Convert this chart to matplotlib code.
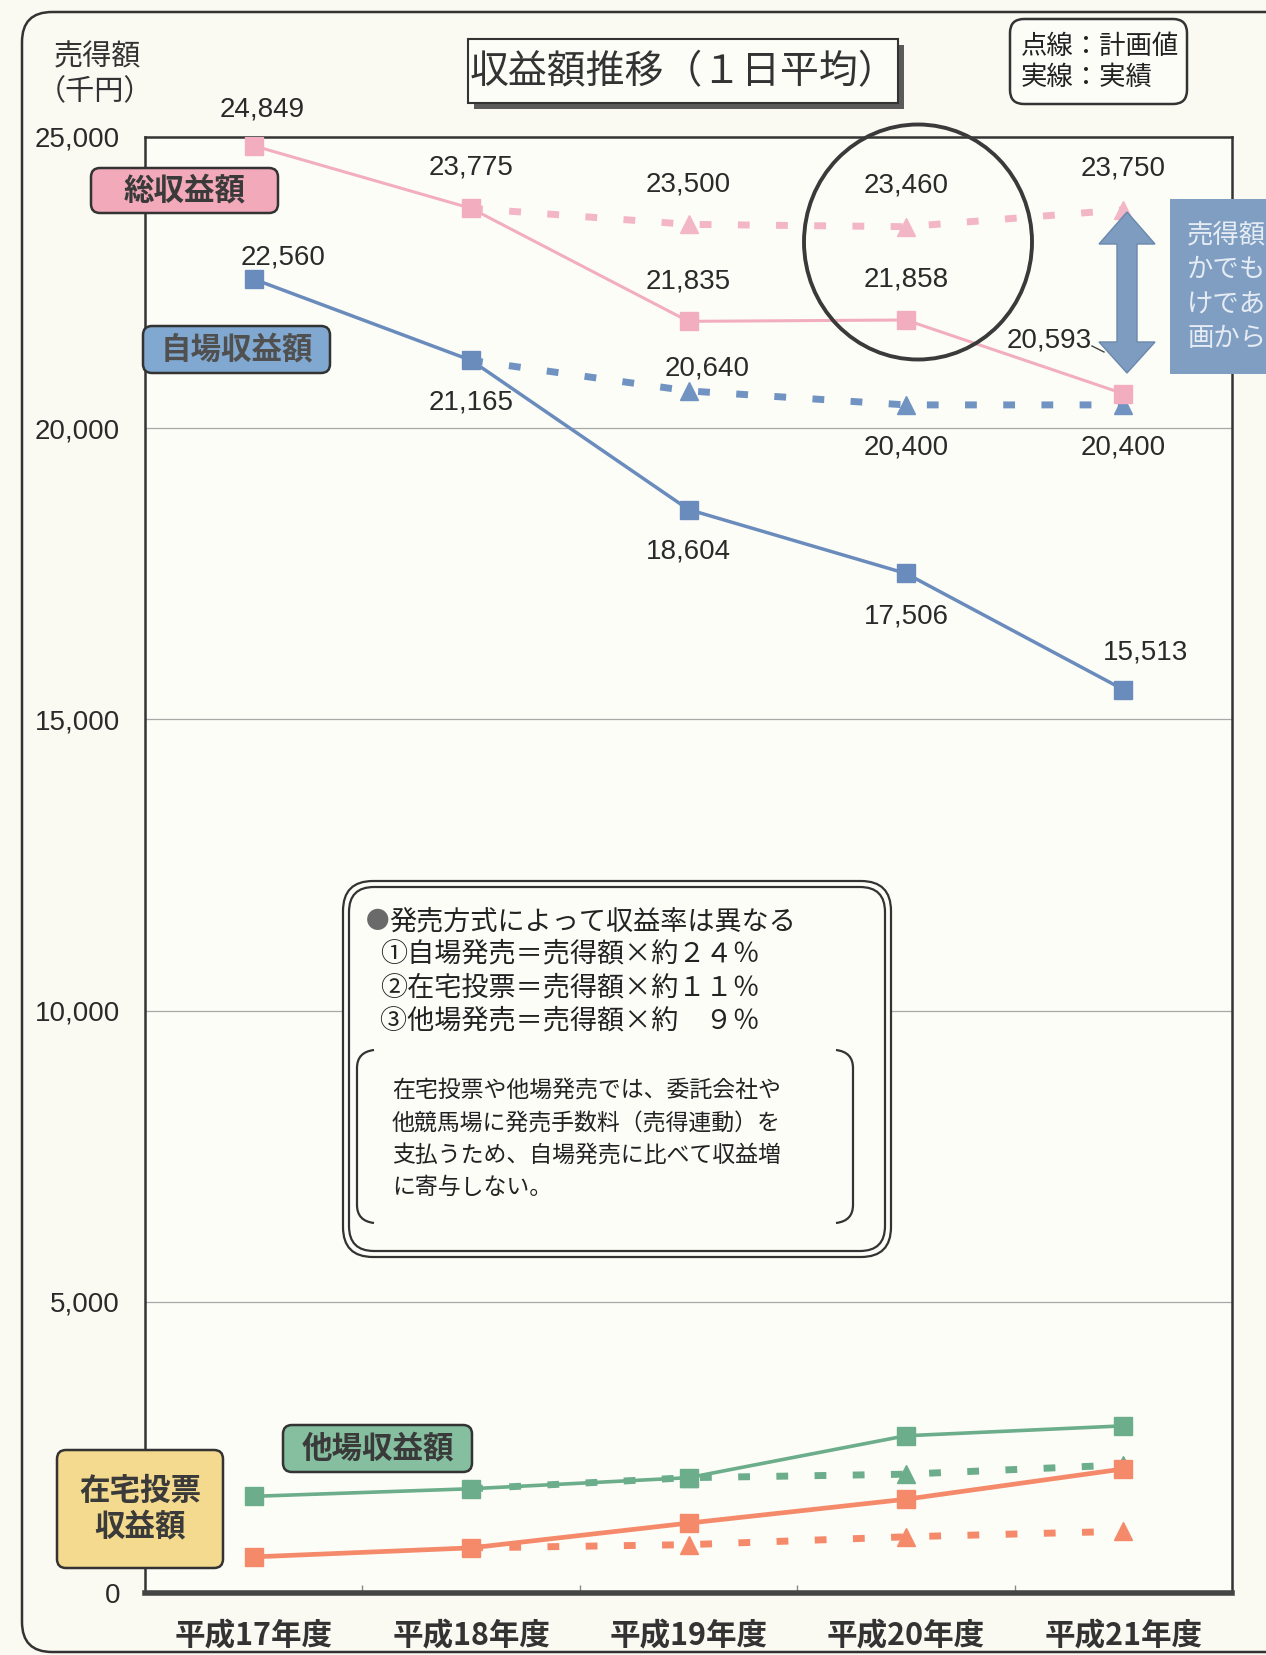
import numpy as np
import matplotlib
matplotlib.use("Agg")
import matplotlib.pyplot as plt
from matplotlib.patches import FancyBboxPatch, Ellipse, Polygon, Rectangle, PathPatch
from matplotlib.path import Path

# ---------------- data ----------------
years = ['平成17年度', '平成18年度', '平成19年度', '平成20年度', '平成21年度']
total_actual = [24849, 23775, 21835, 21858, 20593]
total_plan = [np.nan, 23775, 23500, 23460, 23750]
own_actual = [22560, 21165, 18604, 17506, 15513]
own_plan = [np.nan, 21165, 20640, 20400, 20400]
other_actual = [1660, 1790, 1980, 2700, 2870]
other_plan = [np.nan, 1790, 1980, 2040, 2200]
home_actual = [620, 775, 1200, 1610, 2130]
home_plan = [np.nan, 775, 830, 965, 1060]
yticks = [0, 5000, 10000, 15000, 20000, 25000]

CJK = ['Noto Sans CJK JP', 'DejaVu Sans']
NUM = ['Liberation Sans', 'DejaVu Sans']
plt.rcParams['font.family'] = CJK

W, H = 1266, 1655
BG = '#FBFAF2'
fig = plt.figure(figsize=(W / 100, H / 100), dpi=100, facecolor=BG)

# main axes (pixel geometry of the plot frame)
L, T, R, B = 145, 137, 1232, 1593
ax = fig.add_axes([L / W, (H - B) / H, (R - L) / W, (B - T) / H])
ax.set_facecolor('#FDFDF8')
ax.set_xlim(-0.5, 4.5)
ax.set_ylim(0, 25000)
x = np.arange(len(years))

pink, pink_d = '#F2AEBF', '#F3B6C6'
blue, blue_d = '#6A8CBD', '#7193C2'
green = '#6CAD8B'
orange = '#F58A6B'

for g in yticks[1:-1]:
    ax.axhline(g, color='#A8A8A8', lw=0.9, zorder=1)

mk = dict(marker='s', ms=13)
dash = dict(lw=5, dashes=(1.7, 3.8), dash_capstyle='butt', marker='^', ms=13,
            markevery=[2, 3, 4], zorder=3)
# plan (dotted) lines
ax.plot(x, total_plan, color=pink_d, **dash)
ax.plot(x, own_plan, color=blue_d, **dash)
ax.plot(x, other_plan, color=green, **dash)
ax.plot(x, home_plan, color=orange, **dash)
# actual (solid) lines
ax.plot(x, total_actual, color=pink, lw=2.2, zorder=4, **mk)
ax.plot(x, own_actual, color=blue, lw=2.5, zorder=4, **mk)
ax.plot(x, other_actual, color=green, lw=2.6, zorder=4, **mk)
ax.plot(x, home_actual, color=orange, lw=3.4, zorder=4, **mk)

# value labels: (series, index, dx px, dy px (down positive))
label_pos = [
    (total_actual, 0, 8, -36), (total_actual, 1, 0, -41), (total_actual, 2, 0, -40),
    (total_actual, 3, 0, -40), (total_actual, 4, -74, -53),
    (total_plan, 2, 0, -40), (total_plan, 3, 0, -41), (total_plan, 4, 0, -41),
    (own_actual, 0, 29, -22), (own_actual, 1, 0, 42), (own_actual, 2, 0, 42),
    (own_actual, 3, 0, 43), (own_actual, 4, 22, -37),
    (own_plan, 2, 19, -22), (own_plan, 3, 0, 43), (own_plan, 4, 0, 43),
]
for ser, i, dx, dy in label_pos:
    ax.annotate(f'{ser[i]:,}', (x[i], ser[i]), xytext=(dx, -dy), textcoords='offset pixels',
                ha='center', va='center', fontsize=20, family=NUM, color='#2a2a2a', zorder=6)

ax.set_xticks(x, years)
ax.set_xticks([0.5, 1.5, 2.5, 3.5], minor=True)
ax.tick_params(axis='x', which='major', length=0, pad=20, labelsize=22, labelcolor='#333333')
for lab in ax.get_xticklabels():
    lab.set_fontweight('bold')
ax.tick_params(axis='x', which='minor', direction='in', length=6, width=1, color='#888888')
ax.set_yticks(yticks, [f'{v:,}' for v in yticks])
ax.tick_params(axis='y', length=0, pad=18, labelsize=20, labelcolor='#2a2a2a')
for lab in ax.get_yticklabels():
    lab.set_family(NUM)
for s in ['left', 'top', 'right']:
    ax.spines[s].set_color('#333333')
    ax.spines[s].set_linewidth(1.8)
ax.spines['bottom'].set_color('#444444')
ax.spines['bottom'].set_linewidth(4)

# ---------------- overlay (pixel coordinates, y down) ----------------
ov = fig.add_axes([0, 0, 1, 1], zorder=10)
ov.set_xlim(0, W)
ov.set_ylim(H, 0)
ov.axis('off')
ov.patch.set_alpha(0)

# outer rounded frame
ov.add_patch(FancyBboxPatch((22, 12), 1320, 1640, boxstyle='round,pad=0,rounding_size=30',
                            fc='none', ec='#333333', lw=1.8))

# y axis caption
ov.text(97, 57, '売得額', ha='center', va='center', fontsize=21, color='#333333')
ov.text(95, 92, '（千円）', ha='center', va='center', fontsize=21, color='#333333')

# title with shadow
ov.add_patch(Rectangle((474, 45), 430, 64, fc='#5a5a5a', ec='none'))
ov.add_patch(Rectangle((468, 39), 430, 64, fc='#FDFDF8', ec='#333333', lw=1.5))
ov.text(683, 72, '収益額推移（１日平均）', ha='center', va='center', fontsize=28, color='#333333')

# legend note top right
ov.add_patch(FancyBboxPatch((1010, 19), 177, 85, boxstyle='round,pad=0,rounding_size=14',
                            fc='#FDFDF8', ec='#333333', lw=1.8))
ov.text(1021, 46, '点線：計画値', ha='left', va='center', fontsize=19, color='#222222')
ov.text(1021, 77, '実線：実績', ha='left', va='center', fontsize=19, color='#222222')

# series label boxes
def label_box(x0, y0, w, h, fc, lines, tc):
    ov.add_patch(FancyBboxPatch((x0, y0), w, h, boxstyle='round,pad=0,rounding_size=9',
                                fc=fc, ec='#333333', lw=1.8))
    ov.text(x0 + w / 2, y0 + h / 2, lines, ha='center', va='center', fontsize=22,
            fontweight='bold', color=tc, linespacing=1.15)

label_box(91, 168, 187, 45, '#F2A9BA', '総収益額', '#3a3a3a')
label_box(143, 326, 187, 47, '#80A8D0', '自場収益額', '#505050')
label_box(283, 1425, 189, 47, '#85BF9F', '他場収益額', '#3a3a3a')
label_box(57, 1450, 166, 118, '#F3DA8E', '在宅投票\n収益額', '#3a3a3a')

# highlight circle
ov.add_patch(Ellipse((918, 242), 228, 235, fc='none', ec='#3a3a3a', lw=2.8))

# double arrow
ax_c = 1127
arrow = [(ax_c, 212), (ax_c + 28, 244), (ax_c + 10, 244), (ax_c + 10, 342), (ax_c + 28, 342),
         (ax_c, 373), (ax_c - 28, 342), (ax_c - 10, 342), (ax_c - 10, 244), (ax_c - 28, 244)]
ov.add_patch(Polygon(arrow, closed=True, fc='#7E9CC0', ec='#6A88AD', lw=1))

# right side blue box (clipped by figure edge)
ov.add_patch(Rectangle((1170, 199), 140, 175, fc='#7F9EC2', ec='none'))
for yy, s in zip([235, 269, 304, 338], ['売得額', 'かでも', 'けであ', '画から']):
    ov.text(1187, yy, s, ha='left', va='center', fontsize=19, color='#E6ECF4')

# note box (double border)
ov.add_patch(FancyBboxPatch((343, 881), 548, 376, boxstyle='round,pad=0,rounding_size=30',
                            fc='#FDFDF8', ec='#333333', lw=1.6))
ov.add_patch(FancyBboxPatch((349, 887), 536, 364, boxstyle='round,pad=0,rounding_size=25',
                            fc='none', ec='#333333', lw=1.6))
ov.text(366, 922, '●', ha='left', va='center', fontsize=17, color='#6a6a6a')
ov.text(389, 922, '発売方式によって収益率は異なる', ha='left', va='center', fontsize=19.5, color='#222222')
for yy, s in zip([954, 988, 1021], ['①自場発売＝売得額×約２４％', '②在宅投票＝売得額×約１１％',
                                    '③他場発売＝売得額×約　９％']):
    ov.text(380, yy, s, ha='left', va='center', fontsize=19.5, color='#222222')
para = ['在宅投票や他場発売では、委託会社や', '他競馬場に発売手数料（売得連動）を',
        '支払うため、自場発売に比べて収益増', 'に寄与しない。']
for yy, s in zip([1090, 1124, 1156, 1187], para):
    ov.text(392, yy, s, ha='left', va='center', fontsize=16.5, color='#222222')

# brackets
lb = Path([(374, 1050), (357, 1052), (357, 1068), (357, 1205), (357, 1221), (374, 1223)],
          [Path.MOVETO, Path.CURVE3, Path.CURVE3, Path.LINETO, Path.CURVE3, Path.CURVE3])
rb = Path([(836, 1050), (853, 1052), (853, 1068), (853, 1205), (853, 1221), (836, 1223)],
          [Path.MOVETO, Path.CURVE3, Path.CURVE3, Path.LINETO, Path.CURVE3, Path.CURVE3])
ov.add_patch(PathPatch(lb, fc='none', ec='#333333', lw=1.6))
ov.add_patch(PathPatch(rb, fc='none', ec='#333333', lw=1.6))

# small leader for 20,593
ov.plot([1092, 1104], [346, 352], color='#444444', lw=1)

fig.savefig('out.png', dpi=100, facecolor=BG)
